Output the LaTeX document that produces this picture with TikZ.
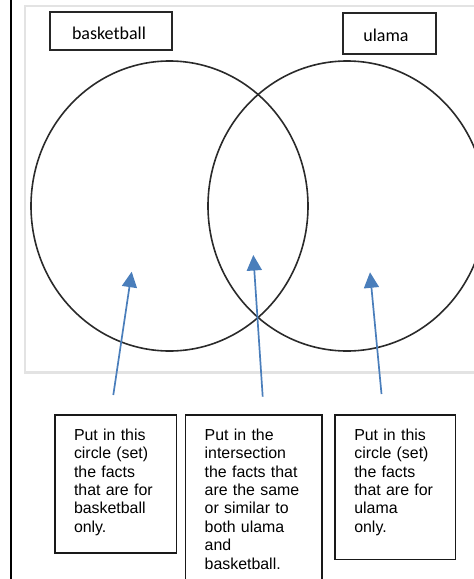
\documentclass[tikz,border=0pt]{standalone}
\usepackage{fontspec}
\setmainfont{Liberation Sans}
\newfontfamily\calibrifont{Carlito}
\usetikzlibrary{arrows.meta,shapes.geometric,calc}
\definecolor{arrowblue}{HTML}{4A7EBB}
\definecolor{panelgray}{HTML}{E3E3E3}
\definecolor{setline}{HTML}{2A2A2A}
\tikzset{
  setshape/.style={draw=setline, line width=1.6pt, ellipse, inner sep=0pt},
  labelbox/.style={draw=black!85, line width=1.3pt, rectangle, inner sep=0pt,
    font=\calibrifont\fontsize{18}{20}\selectfont, text height=16pt, text depth=0pt},
  infobox/.style={draw=black!90, line width=1.3pt, rectangle, inner sep=0pt, anchor=north west},
  infotext/.style={inner sep=0pt, anchor=north west, text width=112pt, align=left,
    font=\fontsize{15.9}{18.4}\selectfont},
  pointer/.style={draw=arrowblue, line width=1.7pt, -{Triangle[length=15.5pt,width=15pt]}}
}
\begin{document}
\begin{tikzpicture}[x=1pt,y=-1pt]
\useasboundingbox (0,0) rectangle (474,579);
% left margin rule
\draw[line width=2.2pt, black] (11,0) -- (11,579);
% light panel
\draw[panelgray, line width=2.5pt] (25,6) rectangle (490,372.5);
% sets
\node[setshape, minimum width=277pt, minimum height=290pt] (setA) at (169.5,206) {};
\node[setshape, minimum width=278pt, minimum height=290pt] (setB) at (347,206) {};
% set labels
\node[labelbox, minimum width=122pt, minimum height=38pt] (labA) at (111,31) {basketball\hspace*{4pt}};
\node[labelbox, minimum width=93pt, minimum height=41pt] (labB) at (389.5,33.5) {ulama\hspace*{7pt}};
% instruction boxes
\node[infobox, minimum width=121.7pt, minimum height=138pt] (boxA) at (54.3,414.3) {};
\node[infobox, minimum width=136.3pt, minimum height=200pt] (boxM) at (185,414.3) {};
\node[infobox, minimum width=120.4pt, minimum height=144.7pt] (boxB) at (334.3,414.3) {};
\node[infotext] (txtA) at ($(boxA.north west)+(19.5,14.3)$) {Put in this\\circle (set)\\the facts\\that are for\\basketball\\only.};
\node[infotext] (txtM) at ($(boxM.north west)+(19.5,14.3)$) {Put in the\\intersection\\the facts that\\are the same\\or similar to\\both ulama\\and\\basketball.};
\node[infotext] (txtB) at ($(boxB.north west)+(19.8,14.3)$) {Put in this\\circle (set)\\the facts\\that are for\\ulama\\only.};
% pointer ends
\coordinate (tailA) at (113.3,395);
\coordinate (tipA) at (131.7,271.7);
\coordinate (tailM) at (262.7,396.7);
\coordinate (tipM) at (253.3,255);
\coordinate (tailB) at (381.5,394);
\coordinate (tipB) at (370,272.3);
\draw[pointer] (tailA) -- (tipA);
\draw[pointer] (tailM) -- (tipM);
\draw[pointer] (tailB) -- (tipB);
\end{tikzpicture}
\end{document}
